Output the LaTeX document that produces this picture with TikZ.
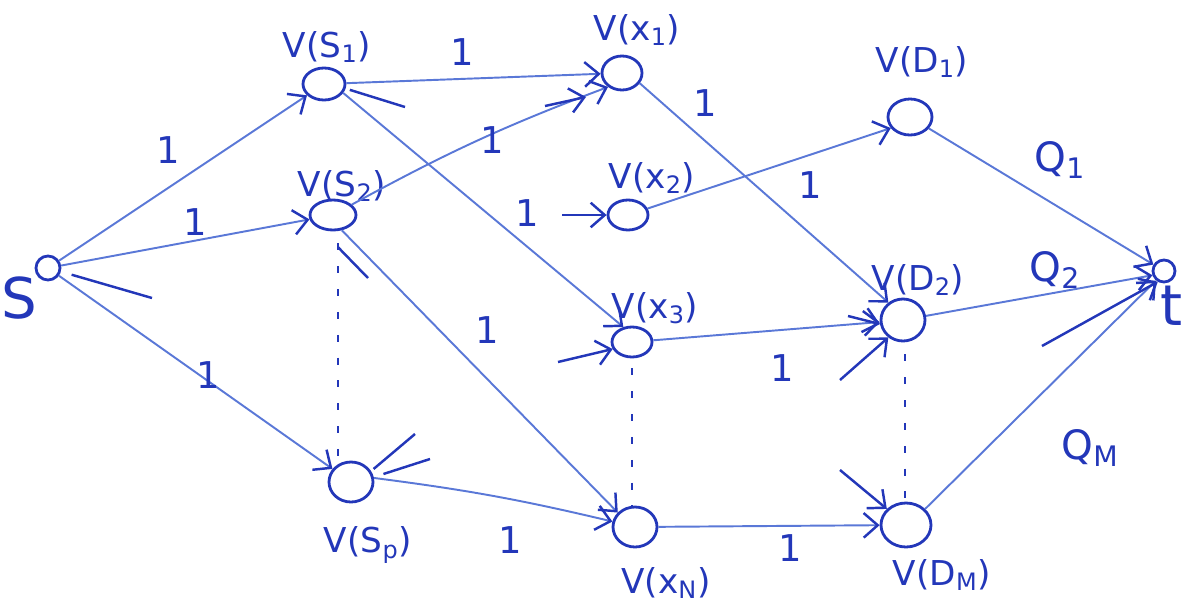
\documentclass[tikz,border=0pt]{standalone}
\usepackage{fontspec}
\setmainfont{DejaVu Sans}
\usetikzlibrary{arrows.meta,shapes.geometric}
\definecolor{ink}{RGB}{35,55,185}
\definecolor{edgec}{RGB}{90,120,215}
\begin{document}
\begin{tikzpicture}[x=0.02cm,y=-0.02cm,
  vx/.style 2 args={draw=ink, line width=1.6pt, ellipse, inner sep=0pt,
     minimum width=#1*0.02cm, minimum height=#2*0.02cm},
  vlab/.style={text=ink, font=\fontsize{19.5}{22}\selectfont, inner sep=0pt},
  one/.style={text=ink, font=\fontsize{21}{24}\selectfont, inner sep=0pt},
  big/.style={text=ink, font=\fontsize{32}{34}\selectfont, inner sep=0pt},
  qlab/.style={text=ink, font=\fontsize{23}{25}\selectfont, inner sep=0pt},
  tip/.style={-{Straight Barb[length=8pt,width=14pt,line width=1.4pt,color=ink]}},
  flow/.style={draw=edgec, line width=1.1pt, tip},
  stub/.style={draw=ink, line width=1.4pt},
  stubarrow/.style={draw=ink, line width=1.4pt, tip},
  dots/.style={draw=ink, line width=1pt, dash pattern=on 4pt off 9pt}]
\useasboundingbox (0,0) rectangle (1191,606);

% vertices
\node[vx={24}{24}] (s)  at (48,268) {};
\node[vx={42}{32}] (S1) at (324,84) {};
\node[vx={46}{30}] (S2) at (333,215) {};
\node[vx={44}{40}] (Sp) at (351,482) {};
\node[vx={40}{34}] (x1) at (622,73) {};
\node[vx={40}{30}] (x2) at (628,215) {};
\node[vx={40}{30}] (x3) at (632,342) {};
\node[vx={44}{40}] (xN) at (635,527) {};
\node[vx={44}{36}] (D1) at (910,117) {};
\node[vx={44}{42}] (D2) at (903,320) {};
\node[vx={50}{44}] (DM) at (906,525) {};
\node[vx={22}{22}] (t)  at (1164,271) {};

% vertex labels
\node[big] (ls) at (19,298) {S};
\node[big] (lt) at (1172,306) {t};
\node[vlab] (lS1) at (327,47) {V(S\textsubscript{1})};
\node[vlab] (lS2) at (342,186) {V(S\textsubscript{2})};
\node[vlab] (lSp) at (368,545) {V(S\textsubscript{p})};
\node[vlab] (lx1) at (637,30) {V(x\textsubscript{1})};
\node[vlab] (lx2) at (652,178) {V(x\textsubscript{2})};
\node[vlab] (lx3) at (655,308) {V(x\textsubscript{3})};
\node[vlab] (lxN) at (666,583) {V(x\textsubscript{N})};
\node[vlab] (lD1) at (922,62) {V(D\textsubscript{1})};
\node[vlab] (lD2) at (918,280) {V(D\textsubscript{2})};
\node[vlab] (lDM) at (942,575) {V(D\textsubscript{M})};

% main flow edges
\draw[flow] (s) -- (S1);
\draw[flow] (s) -- (S2);
\draw[flow] (s) -- (Sp);
\draw[flow] (S1) -- (x1);
\draw[flow] (S2) to[bend left=4] (x1.225);
\draw[flow] (S1.-25) -- (x3.120);
\draw[flow] (S2.-60) -- (xN.140);
\draw[flow] (Sp.10) to[bend left=3] (xN);
\draw[flow] (x1.-30) -- (D2.130);
\draw[flow] (x2) -- (D1.210);
\draw[flow] (x3) -- (D2.185);
\draw[flow] (xN) -- (DM);
\draw[flow] (D1) -- (t);
\draw[flow] (D2) -- (t.200);
\draw[flow] (DM.40) -- (t.230);

% dotted continuation lines
\draw[dots] (S2.south) ++(5,12) coordinate (d1a) -- (d1a |- Sp.north);
\draw[dots] (x3.south) ++(0,10) coordinate (d2a) -- (d2a |- xN.north);
\draw[dots] (D2.south) ++(2,12) coordinate (d3a) -- (d3a |- DM.north);

% stubs (other edges, partly drawn)
\coordinate (sa) at (152,298);
\draw[stub] (s.-30) ++(12,0) -- (sa);
\coordinate (sb) at (405,107);
\draw[stub] (S1.-10) ++(4,2) -- (sb);
\coordinate (sc) at (368,278);
\draw[stub] (S2.-100) ++(8,16) -- (sc);
\coordinate (sd) at (415,434);
\draw[stub] (Sp.35) ++(4,0) -- (sd);
\coordinate (se) at (430,459);
\draw[stub] (Sp.15) ++(10,-2) -- (se);
\coordinate (sf) at (545,106);
\draw[stubarrow] (sf) -- (586,97);
\coordinate (sg) at (562,215);
\draw[stubarrow] (sg) -- (x2.west);
\coordinate (sh) at (558,362);
\draw[stubarrow] (sh) -- (x3.200);
\coordinate (si) at (848,316);
\draw[stubarrow] (si) -- (D2.190);
\coordinate (sj) at (840,380);
\draw[stubarrow] (sj) -- (D2.230);
\coordinate (sk) at (840,470);
\draw[stubarrow] (sk) -- (DM.140);
\coordinate (sl) at (1042,346);
\draw[stubarrow] (sl) -- (t.240);

% capacities
\node[one] (c1) at (168,150) {1};
\node[one] (c2) at (195,222) {1};
\node[one] (c3) at (208,375) {1};
\node[one] (c4) at (462,52) {1};
\node[one] (c5) at (492,140) {1};
\node[one] (c6) at (705,103) {1};
\node[one] (c7) at (810,185) {1};
\node[one] (c8) at (527,213) {1};
\node[one] (c9) at (487,330) {1};
\node[one] (c10) at (782,368) {1};
\node[one] (c11) at (510,540) {1};
\node[one] (c12) at (790,548) {1};
\node[qlab] (q1) at (1060,160) {Q\textsubscript{1}};
\node[qlab] (q2) at (1055,270) {Q\textsubscript{2}};
\node[qlab] (qM) at (1090,448) {Q\textsubscript{M}};
\end{tikzpicture}
\end{document}
